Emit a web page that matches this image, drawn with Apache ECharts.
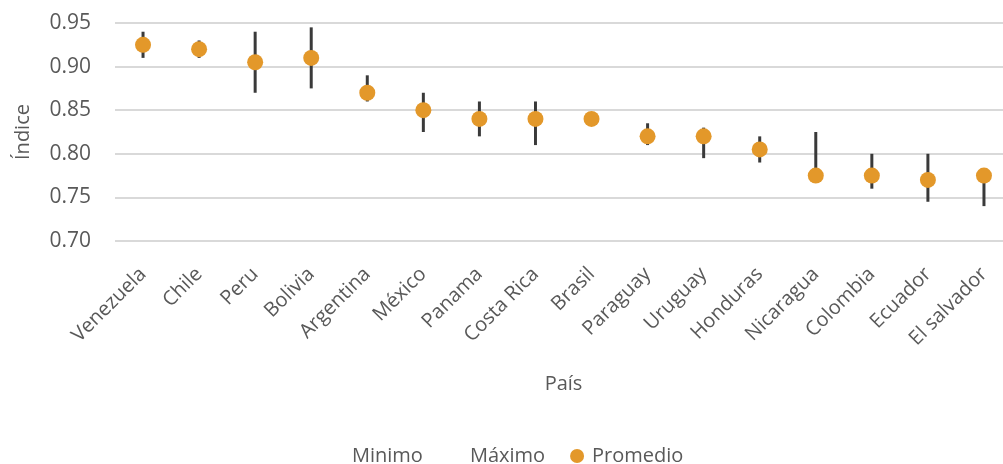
<!DOCTYPE html>
<html>
<head>
<meta charset="utf-8">
<script src="https://cdn.jsdelivr.net/npm/echarts@6/dist/echarts.min.js"></script>
<style>
  html, body { margin: 0; padding: 0; background: #fff; overflow: hidden; }
  #chart { width: 1012px; height: 464px; }
</style>
</head>
<body>
<div id="chart"></div>
<script>
const paises = ['Venezuela', 'Chile', 'Peru', 'Bolivia', 'Argentina', 'México', 'Panama', 'Costa Rica', 'Brasil', 'Paraguay', 'Uruguay', 'Honduras', 'Nicaragua', 'Colombia', 'Ecuador', 'El salvador'];
const minimo   = [0.91, 0.91, 0.87, 0.875, 0.86, 0.825, 0.82, 0.81, 0.84, 0.81, 0.795, 0.79, 0.775, 0.76, 0.745, 0.74];
const maximo   = [0.94, 0.93, 0.94, 0.945, 0.89, 0.87, 0.86, 0.86, 0.84, 0.835, 0.83, 0.82, 0.825, 0.80, 0.80, 0.775];
const promedio = [0.925, 0.92, 0.905, 0.91, 0.87, 0.85, 0.84, 0.84, 0.84, 0.82, 0.82, 0.805, 0.775, 0.775, 0.77, 0.775];
const yTicks = [0.70, 0.75, 0.80, 0.85, 0.90, 0.95];

const FONT = 'Open Sans';
const GRAY = '#595959';
const ORANGE = '#E3982A';

const rangeData = paises.map((p, i) => [i, minimo[i], maximo[i]]);

const chart = echarts.init(document.getElementById('chart'), null, { renderer: 'canvas' });
chart.setOption({
  animation: false,
  textStyle: { fontFamily: FONT },
  grid: { left: 115, width: 897, top: 23, height: 218, containLabel: false },
  legend: {
    left: 325, top: 441,
    itemWidth: 20, itemHeight: 14, itemGap: 25,
    textStyle: { fontFamily: FONT, fontSize: 20, color: GRAY },
    data: ['Minimo', 'Máximo', { name: 'Promedio', icon: 'circle' }],
    selectedMode: false
  },
  xAxis: {
    type: 'category',
    data: paises,
    name: 'País',
    nameLocation: 'middle',
    nameGap: 133,
    nameTextStyle: { fontFamily: FONT, fontSize: 20, color: GRAY },
    axisLine: { show: false },
    axisTick: { show: false },
    axisLabel: { rotate: 45, interval: 0, margin: 30, fontFamily: FONT, fontSize: 20, color: GRAY }
  },
  yAxis: {
    type: 'value',
    min: yTicks[0], max: yTicks[yTicks.length - 1], interval: 0.05,
    name: 'Índice',
    nameLocation: 'middle',
    nameGap: 82,
    nameTextStyle: { fontFamily: FONT, fontSize: 20, color: GRAY },
    axisLine: { show: false },
    axisTick: { show: false },
    axisLabel: { margin: 24, fontFamily: FONT, fontSize: 21, color: GRAY, formatter: v => v.toFixed(2) },
    splitLine: { lineStyle: { color: '#D9D9D9', width: 2 } }
  },
  series: [
    {
      name: 'Rango',
      type: 'custom',
      z: 2,
      data: rangeData,
      renderItem: function (params, api) {
        const x = api.value(0);
        const p1 = api.coord([x, api.value(1)]);
        const p2 = api.coord([x, api.value(2)]);
        return {
          type: 'line',
          shape: { x1: p1[0], y1: p1[1], x2: p2[0], y2: p2[1] },
          style: { stroke: '#3A3A3A', lineWidth: 3 }
        };
      }
    },
    { name: 'Minimo', type: 'scatter', data: minimo, symbolSize: 0, itemStyle: { color: 'rgba(0,0,0,0)' }, silent: true },
    { name: 'Máximo', type: 'scatter', data: maximo, symbolSize: 0, itemStyle: { color: 'rgba(0,0,0,0)' }, silent: true },
    { name: 'Promedio', type: 'scatter', z: 5, data: promedio, symbol: 'circle', symbolSize: 16, itemStyle: { color: ORANGE, opacity: 1 } }
  ]
});
</script>
</body>
</html>
